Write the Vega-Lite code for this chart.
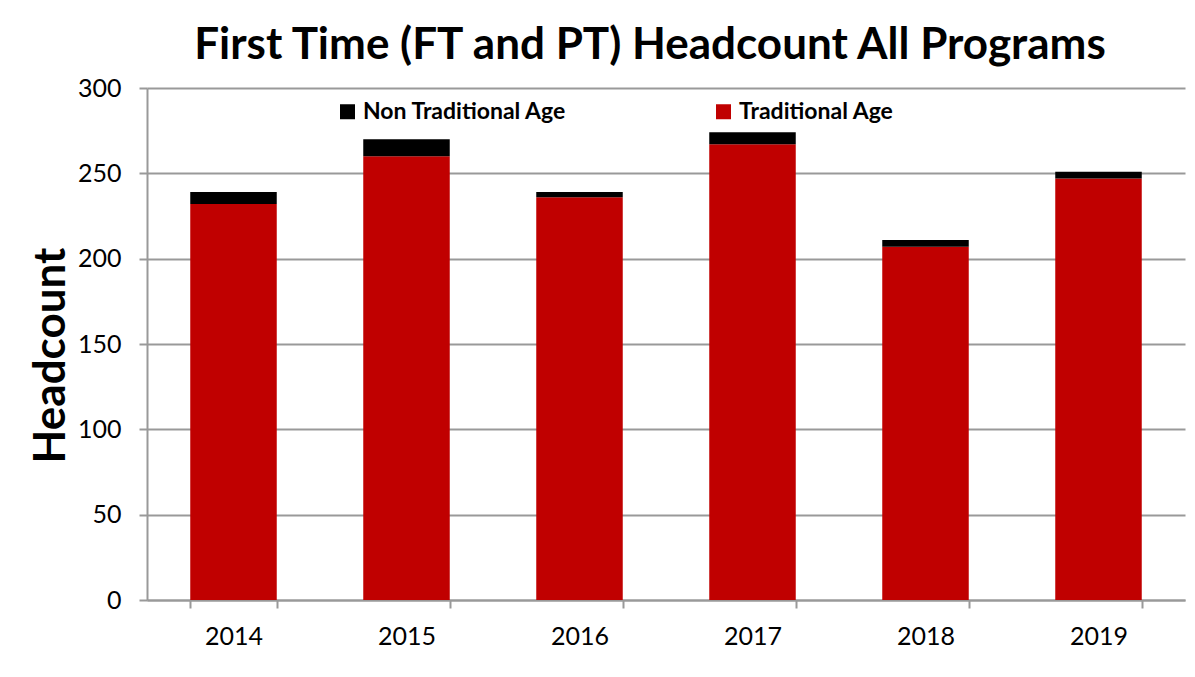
{
  "$schema": "https://vega.github.io/schema/vega-lite/v6.json",
  "width": 1038,
  "height": 512,
  "autosize": "none",
  "padding": {"left": 147, "top": 88, "right": 10, "bottom": 77},
  "background": "white",
  "title": {
    "text": "First Time (FT and PT) Headcount All Programs",
    "font": "Lato",
    "fontSize": 44,
    "fontWeight": "bold",
    "color": "black",
    "anchor": "middle",
    "dx": -16,
    "offset": 8
  },
  "data": {
    "values": [
      {"year": "2014", "group": "Traditional Age", "count": 232},
      {"year": "2014", "group": "Non Traditional Age", "count": 7},
      {"year": "2015", "group": "Traditional Age", "count": 260},
      {"year": "2015", "group": "Non Traditional Age", "count": 10},
      {"year": "2016", "group": "Traditional Age", "count": 236},
      {"year": "2016", "group": "Non Traditional Age", "count": 3},
      {"year": "2017", "group": "Traditional Age", "count": 267},
      {"year": "2017", "group": "Non Traditional Age", "count": 7},
      {"year": "2018", "group": "Traditional Age", "count": 207},
      {"year": "2018", "group": "Non Traditional Age", "count": 4},
      {"year": "2019", "group": "Traditional Age", "count": 247},
      {"year": "2019", "group": "Non Traditional Age", "count": 4}
    ]
  },
  "mark": {"type": "bar"},
  "encoding": {
    "x": {
      "field": "year",
      "type": "ordinal",
      "scale": {"paddingInner": 0.5, "paddingOuter": 0.25},
      "axis": {
        "title": null,
        "labelAngle": 0,
        "labelFont": "Lato",
        "labelFontSize": 25,
        "labelColor": "black",
        "labelPadding": 16,
        "domainColor": "#999999",
        "domainWidth": 2,
        "tickColor": "#999999",
        "tickWidth": 2,
        "tickSize": 8,
        "tickBand": "extent"
      }
    },
    "y": {
      "field": "count",
      "type": "quantitative",
      "stack": "zero",
      "scale": {"domain": [0, 300], "nice": false},
      "axis": {
        "title": "Headcount",
        "titleFont": "Lato",
        "titleFontSize": 44,
        "titleFontWeight": "bold",
        "titleColor": "black",
        "titlePadding": 4,
        "titleY": 267,
        "values": [0, 50, 100, 150, 200, 250, 300],
        "labelFont": "Lato",
        "labelFontSize": 25,
        "labelColor": "black",
        "labelPadding": 18,
        "domainColor": "#999999",
        "domainWidth": 2,
        "tickColor": "#999999",
        "tickWidth": 2,
        "tickSize": 8,
        "gridColor": "#999999",
        "gridWidth": 2
      }
    },
    "color": {
      "field": "group",
      "type": "nominal",
      "scale": {"domain": ["Non Traditional Age", "Traditional Age"], "range": ["#000000", "#C00000"]},
      "legend": {
        "title": null,
        "orient": "none",
        "direction": "horizontal",
        "legendX": 189,
        "legendY": 12,
        "symbolType": "square",
        "symbolSize": 225,
        "symbolStrokeWidth": 0,
        "labelFont": "Lato",
        "labelFontSize": 23,
        "labelFontWeight": "bold",
        "labelColor": "black",
        "columnPadding": 145,
        "labelLimit": 400
      }
    },
    "order": {"field": "group", "sort": "descending"}
  },
  "config": {
    "view": {"stroke": null},
    "bar": {"strokeWidth": 0}
  }
}
